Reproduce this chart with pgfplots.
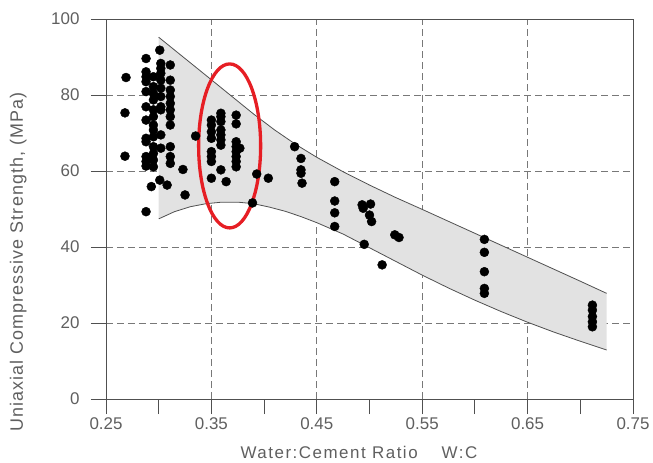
\documentclass[border=0pt]{standalone}
\usepackage{fontspec}
\setmainfont{Liberation Sans}
\newfontfamily\labfont[LetterSpace=9]{Liberation Sans}
\newfontfamily\ylabfont[LetterSpace=6]{Liberation Sans}
\usepackage{pgfplots}
\pgfplotsset{compat=1.18}
\definecolor{axgray}{RGB}{80,80,80}
\definecolor{txtgray}{RGB}{95,95,95}
\definecolor{gridgray}{RGB}{120,120,120}
\definecolor{bandfill}{RGB}{226,226,226}
\definecolor{ringred}{RGB}{230,30,36}

\begin{document}
\begin{tikzpicture}
\path[use as bounding box] (-106bp,-64bp) rectangle (547bp,399bp);
\begin{axis}[
  at={(0,0)}, anchor=south west,
  scale only axis, width=527bp, height=380bp,
  xmin=0.25, xmax=0.75, ymin=0, ymax=100,
  xtick={0.25,0.35,0.45,0.55,0.65,0.75},
  xticklabels={0.25,0.35,0.45,0.55,0.65,0.75},
  minor xtick={0.3,0.4,0.5,0.6,0.7},
  ytick={0,20,40,60,80,100},
  xtick pos=bottom, ytick pos=left,
  tick align=outside,
  major tick length=15bp, minor tick length=15bp,
  every tick/.style={axgray, line width=0.9pt},
  every minor tick/.style={axgray, line width=0.9pt},
  grid=major,
  major grid style={gridgray, dash pattern=on 7bp off 4bp, line width=0.9pt},
  axis line style={axgray, line width=0.9pt},
  ticklabel style={font=\fontsize{17}{20}\selectfont, text=txtgray},
  /pgf/number format/assume math mode=true,
  yticklabel style={xshift=-8bp},
  xlabel={Water:Cement Ratio\hspace{24bp}W:C},
  ylabel={Uniaxial Compressive Strength, (MPa)},
  xlabel style={font=\labfont\fontsize{17}{20}\selectfont, text=txtgray,
    at={(axis description cs:0.48,0)}, anchor=base, yshift=-59bp},
  ylabel style={font=\ylabfont\fontsize{18}{20}\selectfont, text=txtgray,
    at={(axis description cs:-0.1575,0.36)}, anchor=base},
]
% shaded band
\addplot[draw=none, fill=bandfill] coordinates {
  (0.300,95.2) (0.350,84.0) (0.390,75.0) (0.410,70.8) (0.430,67.0)
  (0.450,63.6) (0.475,59.8) (0.500,56.3) (0.525,53.0) (0.550,49.9)
  (0.600,43.6) (0.650,37.3) (0.700,31.0) (0.725,27.8)
  (0.725,12.9) (0.700,15.2) (0.675,17.6) (0.650,20.2) (0.625,23.0)
  (0.600,26.0) (0.575,29.2) (0.550,32.6) (0.525,36.2) (0.500,39.8)
  (0.475,43.4) (0.450,46.4) (0.435,48.0) (0.420,49.4) (0.405,50.5)
  (0.390,51.4) (0.375,51.8) (0.360,51.8) (0.345,51.4) (0.330,50.6)
  (0.315,49.3) (0.300,47.4)
} -- cycle;
% upper bound
\addplot[axgray, line width=0.8pt] coordinates {
  (0.300,95.2) (0.350,84.0) (0.390,75.0) (0.410,70.8) (0.430,67.0)
  (0.450,63.6) (0.475,59.8) (0.500,56.3) (0.525,53.0) (0.550,49.9)
  (0.600,43.6) (0.650,37.3) (0.700,31.0) (0.725,27.8)
};
% lower bound
\addplot[axgray, line width=0.8pt] coordinates {
  (0.300,47.4) (0.315,49.3) (0.330,50.6) (0.345,51.4) (0.360,51.8)
  (0.375,51.8) (0.390,51.4) (0.405,50.5) (0.420,49.4) (0.435,48.0)
  (0.450,46.4) (0.475,43.4) (0.500,39.8) (0.525,36.2) (0.550,32.6)
  (0.575,29.2) (0.600,26.0) (0.625,23.0) (0.650,20.2) (0.675,17.6)
  (0.700,15.2) (0.725,12.9)
};
% test results
\addplot[only marks, mark=*, mark size=4.5bp, mark options={fill=black, draw=black}] coordinates {
  (0.269,84.6) (0.268,75.3) (0.268,63.9) (0.288,49.3) (0.301,91.8)
  (0.288,89.6) (0.288,86.1) (0.288,84.8) (0.288,83.5) (0.288,80.9)
  (0.288,76.9) (0.288,73.4) (0.288,68.6) (0.288,67.7) (0.288,63.8)
  (0.288,62.5) (0.288,61.3)
  (0.295,84.8) (0.295,82.2) (0.295,80.4) (0.295,78.7) (0.295,76.1)
  (0.295,74.3) (0.295,72.1) (0.295,70.8) (0.295,69.0) (0.295,66.4)
  (0.295,64.6) (0.295,62.9) (0.295,61.1)
  (0.302,88.3) (0.302,87.0) (0.302,85.7) (0.302,83.9) (0.302,81.8)
  (0.302,79.6) (0.302,76.9) (0.302,76.1) (0.302,69.5) (0.302,66.0)
  (0.311,87.9) (0.311,83.9) (0.311,81.3) (0.311,79.6) (0.311,77.8)
  (0.311,76.1) (0.311,74.3) (0.311,72.1) (0.311,66.4) (0.311,63.8)
  (0.311,62.0)
  (0.293,55.9) (0.301,57.6) (0.308,56.3) (0.323,60.4) (0.325,53.7)
  (0.335,69.2)
  (0.350,73.4) (0.350,72.1) (0.350,70.3) (0.350,68.6) (0.350,65.1)
  (0.350,63.8) (0.350,62.5) (0.350,58.1)
  (0.359,75.2) (0.359,74.3) (0.359,73.0) (0.359,70.8) (0.359,69.5)
  (0.359,68.2) (0.359,66.8) (0.359,60.3) (0.364,57.2)
  (0.3735,74.7) (0.3735,72.4) (0.3735,67.7) (0.3735,66.4) (0.3735,65.1)
  (0.3735,63.8) (0.3735,62.5) (0.3735,61.1) (0.377,66.0)
  (0.389,51.6) (0.393,59.2) (0.404,58.1)
  (0.429,66.4) (0.435,63.3) (0.435,60.3) (0.435,59.4) (0.436,56.8)
  (0.467,57.2) (0.467,52.1) (0.467,49.0) (0.467,45.4)
  (0.493,51.1) (0.494,50.2) (0.501,51.3) (0.500,48.4) (0.502,46.7)
  (0.495,40.7) (0.512,35.3) (0.524,43.2) (0.528,42.5)
  (0.609,42.0) (0.609,38.6) (0.609,33.5) (0.609,29.1) (0.609,27.8)
  (0.7115,24.7) (0.7115,23.4) (0.7115,21.7) (0.7115,20.3) (0.7115,19.0)
};
\draw[ringred, line width=3.3bp] (axis cs:0.3673,66.6) ellipse [x radius=31bp, y radius=82bp];
\end{axis}
\end{tikzpicture}
\end{document}
